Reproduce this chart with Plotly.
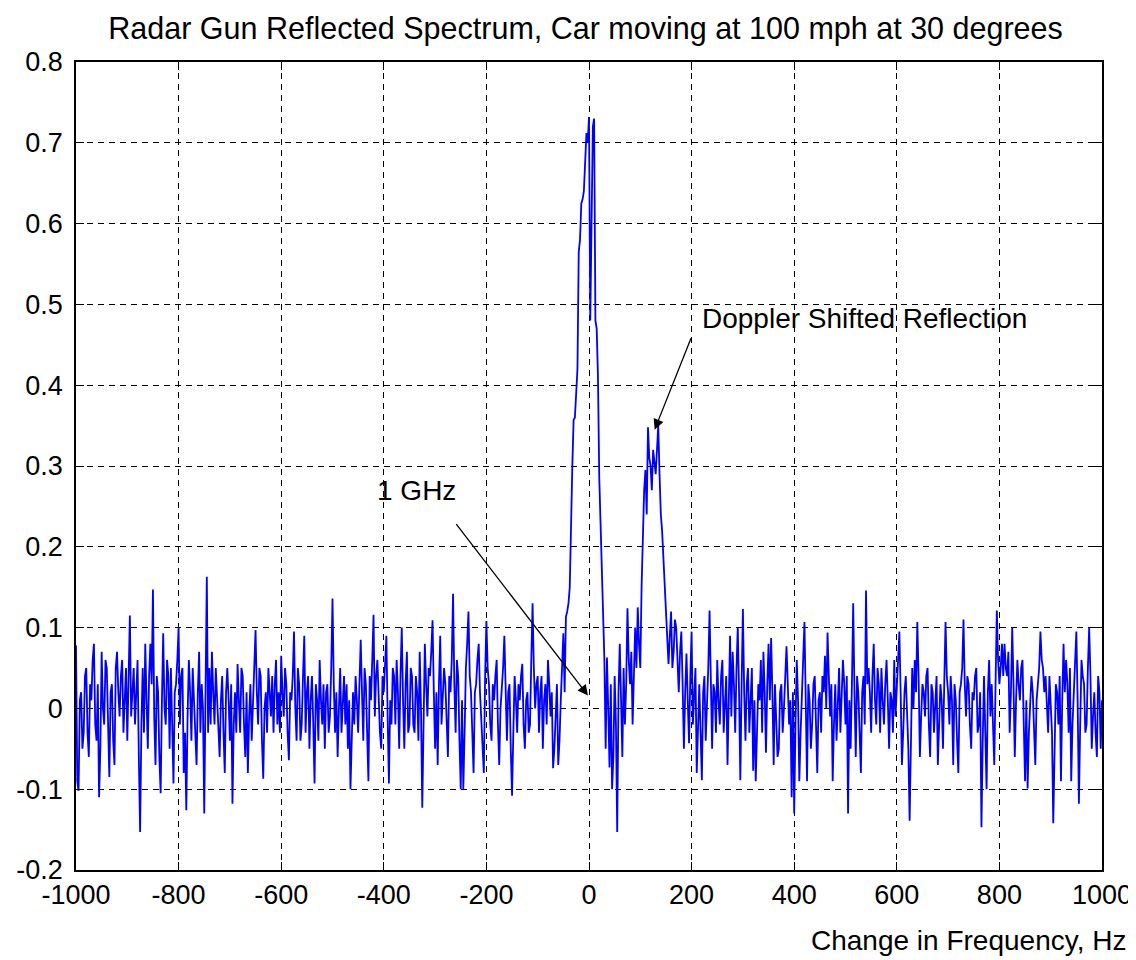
import plotly.graph_objects as go

# Frequency offsets (Hz): samples every 2.5 Hz from -1000 to 1000
freq_start = -1000
freq_step = 2.5

# Spectrum amplitude at -1000, -995, ... (100 Hz per row)
amp_m1000 = [0.078, -0.102, 0.02, -0.03, 0.05, -0.06, 0.01, 0.08, -0.04, -0.11,
             0.07, -0.02, 0.05, -0.085, 0.03, -0.07, 0.07, -0.01, 0.06, 0.02]
amp_m900 = [-0.04, 0.115, 0.03, -0.02, 0.06, -0.153, 0.05, 0.08, -0.05, 0.08,
            0.147, -0.07, 0.02, -0.105, 0.093, -0.02, 0.04, 0.05, -0.093, 0.03]
amp_m800 = [0.1, 0.04, -0.08, -0.126, 0.06, -0.04, 0.01, -0.07, 0.07, 0.03,
            -0.13, 0.163, 0.05, 0.07, -0.02, 0.01, -0.06, 0.04, -0.08, 0.05]
amp_m700 = [-0.04, -0.118, 0.02, 0.055, -0.03, 0.04, -0.06, -0.08, 0.03, 0.01,
            0.097, -0.02, 0.04, -0.087, 0.02, 0.05, -0.01, -0.03, 0.06, 0.02]
amp_m600 = [0.065, -0.01, 0.03, -0.064, 0.01, 0.095, -0.04, 0.03, -0.02, 0.09,
            0.02, -0.05, 0.04, -0.093, 0.01, 0.06, -0.02, -0.05, 0.03, -0.01]
amp_m500 = [0.136, -0.03, -0.06, 0.05, 0.01, -0.02, -0.05, -0.1, 0.02, 0.04,
            -0.03, 0.085, -0.04, 0.03, -0.09, 0.01, 0.116, 0.04, 0.0, -0.05]
amp_m400 = [0.02, 0.09, -0.093, -0.02, 0.04, 0.06, -0.05, 0.1, -0.05, 0.07,
            -0.02, 0.04, -0.03, 0.02, 0.07, -0.123, 0.08, -0.01, 0.04, 0.109]
amp_m300 = [-0.05, -0.07, 0.09, 0.01, 0.03, -0.06, 0.02, 0.142, -0.03, 0.04,
            -0.1, -0.1, 0.05, 0.12, 0.02, -0.08, 0.03, 0.08, -0.01, -0.08]
amp_m200 = [0.108, 0.03, -0.04, 0.01, 0.06, -0.07, 0.02, 0.09, -0.04, 0.03,
            -0.108, 0.04, -0.03, 0.01, 0.055, -0.05, 0.02, -0.02, 0.13, 0.0]
amp_m100 = [0.04, 0.02, -0.05, 0.03, 0.06, -0.01, -0.074, 0.0, -0.07, 0.01,
            0.093, 0.113, 0.13, 0.24, 0.357, 0.39, 0.565, 0.625, 0.64, 0.712]
amp_p000 = [0.732, 0.6, 0.73, 0.47, 0.286, 0.185, 0.06, 0.063, -0.073, -0.1,
            0.04, -0.153, 0.08, -0.06, -0.02, 0.124, 0.03, -0.02, 0.1, 0.125]
amp_p100 = [0.05, 0.22, 0.295, 0.348, 0.30, 0.32, 0.29, 0.35, 0.24, 0.19,
            0.125, 0.055, 0.12, 0.07, 0.1, 0.02, 0.095, -0.05, 0.068, -0.043]
amp_p200 = [0.095, 0.02, -0.08, 0.03, -0.089, 0.04, 0.0, 0.121, -0.05, 0.02,
            0.06, -0.02, 0.06, 0.01, -0.07, 0.09, 0.07, -0.03, 0.1, -0.089]
amp_p300 = [0.123, -0.04, 0.05, 0.02, -0.077, -0.09, 0.03, 0.06, 0.07, -0.055,
            0.08, 0.087, -0.07, -0.02, -0.05, 0.03, 0.0, 0.077, -0.02, -0.11]
amp_p400 = [-0.13, 0.06, -0.09, 0.02, 0.107, -0.09, 0.01, -0.02, 0.04, -0.08,
            0.02, 0.04, 0.065, 0.094, -0.01, -0.09, 0.03, 0.01, -0.03, 0.06]
amp_p500 = [-0.02, -0.13, -0.05, 0.13, -0.06, 0.02, -0.08, 0.04, 0.146, 0.05,
            -0.03, 0.08, -0.02, 0.03, 0.05, -0.02, 0.06, -0.05, 0.01, 0.06]
amp_p600 = [0.02, 0.095, -0.07, 0.02, -0.01, -0.139, 0.05, 0.06, 0.107, -0.06,
            0.03, -0.01, 0.05, -0.06, 0.02, 0.0, -0.07, 0.03, -0.05, 0.107]
amp_p700 = [0.02, 0.04, -0.07, 0.01, -0.08, 0.03, 0.11, -0.01, 0.03, -0.05,
            0.01, 0.05, -0.02, -0.147, 0.04, -0.1, 0.06, 0.03, -0.07, 0.121]
amp_p800 = [0.03, 0.08, 0.08, 0.04, -0.03, 0.1, -0.06, 0.06, 0.01, 0.06,
            -0.09, -0.099, 0.0, 0.02, -0.07, 0.03, 0.095, 0.05, 0.04, -0.03]
amp_p900 = [0.01, -0.142, 0.03, -0.02, -0.09, 0.08, 0.06, -0.03, -0.09, 0.02,
            0.095, -0.118, 0.06, 0.03, -0.02, 0.1, -0.05, 0.02, -0.06, 0.02]
amp_end = [0.01]

# Amplitude at the in-between samples -997.5, -992.5, ... (100 Hz per row)
mid_m1000 = [-0.09, 0.01, -0.05, 0.04, -0.03, 0.03, 0.06, -0.02, 0.03, -0.05,
             0.0, 0.06, -0.04, 0.02, -0.04, 0.05, 0.02, 0.04, -0.03, 0.05]
mid_m900 = [0.03, -0.01, 0.05, 0.03, -0.06, -0.02, -0.03, 0.01, 0.04, 0.03,
            -0.01, 0.04, -0.06, 0.01, 0.0, 0.06, -0.05, -0.02, 0.02, 0.06]
mid_m800 = [-0.02, 0.05, -0.03, -0.01, 0.02, 0.05, -0.04, 0.02, -0.03, 0.0,
            0.02, -0.03, -0.02, 0.02, 0.05, -0.04, 0.01, -0.03, 0.02, 0.01]
mid_m700 = [0.03, -0.02, -0.03, 0.01, 0.05, -0.02, 0.02, -0.01, -0.04, 0.05,
            0.02, 0.05, -0.04, 0.0, -0.03, 0.02, 0.04, 0.03, -0.02, -0.03]
mid_m600 = [0.02, 0.05, -0.03, 0.02, 0.04, 0.0, 0.05, -0.04, 0.04, -0.03,
            0.04, 0.01, -0.02, 0.03, -0.04, 0.01, 0.03, 0.02, -0.03, 0.05]
mid_m500 = [0.03, 0.02, 0.0, -0.03, 0.04, 0.03, 0.01, -0.03, -0.02, 0.01,
            0.03, 0.02, 0.05, -0.03, 0.04, 0.06, -0.01, 0.06, -0.03, 0.04]
mid_m400 = [0.05, -0.01, 0.01, 0.05, -0.02, 0.02, 0.04, 0.01, 0.03, -0.03,
            0.05, -0.02, 0.04, -0.04, 0.0, -0.02, 0.03, 0.05, 0.07, 0.02]
mid_m300 = [0.02, 0.03, -0.02, 0.05, -0.03, 0.04, 0.06, 0.03, 0.06, -0.04,
            0.01, -0.03, 0.08, 0.04, -0.03, 0.02, 0.06, 0.02, -0.05, 0.04]
mid_m200 = [0.05, -0.02, 0.03, 0.04, -0.02, 0.0, 0.05, 0.01, 0.02, -0.05,
            -0.03, 0.01, 0.03, 0.04, -0.02, 0.01, -0.03, 0.06, 0.05, 0.03]
mid_m100 = [-0.03, 0.04, 0.01, -0.02, 0.03, 0.02, -0.05, 0.03, -0.04, 0.06,
            0.02, 0.12, 0.15, 0.30, 0.36, 0.42, 0.58, 0.63, 0.67, 0.70]
mid_p000 = [0.48, 0.72, 0.48, 0.41, 0.23, 0.1, -0.05, 0.0, 0.03, -0.06,
            -0.02, 0.02, 0.01, 0.05, 0.03, 0.06, 0.07, 0.04, 0.05, 0.08]
mid_p100 = [0.15, 0.27, 0.24, 0.31, 0.27, 0.3, 0.32, 0.29, 0.22, 0.16,
            0.1, 0.09, 0.05, 0.11, 0.06, 0.07, 0.03, 0.02, 0.01, 0.04]
mid_p200 = [-0.02, 0.05, -0.01, -0.03, 0.02, -0.04, 0.05, 0.02, 0.03, -0.03,
            0.01, 0.04, -0.03, 0.04, 0.02, -0.01, 0.03, 0.05, 0.02, 0.03]
mid_p300 = [0.02, 0.03, -0.03, 0.05, 0.01, -0.02, 0.01, -0.03, 0.02, 0.03,
            0.01, 0.02, 0.03, -0.06, 0.02, -0.03, 0.05, 0.03, 0.01, 0.02]
mid_p400 = [-0.02, 0.01, -0.03, 0.05, 0.01, 0.03, -0.05, 0.03, -0.02, 0.01,
            -0.03, 0.02, 0.0, 0.04, 0.03, -0.02, -0.04, 0.05, 0.02, 0.03]
mid_p500 = [0.04, 0.01, 0.03, 0.02, 0.04, -0.03, 0.02, -0.02, 0.03, 0.02,
            0.04, 0.01, 0.05, -0.03, 0.01, 0.03, 0.01, 0.02, -0.03, -0.01]
mid_p600 = [0.05, 0.02, -0.03, 0.04, -0.05, -0.02, 0.0, 0.02, 0.04, -0.01,
            0.02, 0.04, -0.02, 0.03, -0.03, 0.04, -0.01, 0.01, 0.03, 0.04]
mid_p700 = [-0.02, 0.01, 0.03, -0.04, 0.02, 0.05, 0.03, 0.04, -0.02, 0.02,
            0.04, -0.03, 0.02, -0.04, -0.03, 0.02, -0.01, -0.02, 0.03, 0.06]
mid_p800 = [0.05, 0.04, 0.05, 0.07, 0.02, 0.03, 0.01, 0.03, 0.05, -0.02,
            0.01, -0.03, 0.04, -0.02, 0.01, 0.05, 0.06, 0.02, 0.01, 0.04]
mid_p900 = [-0.03, -0.04, 0.02, 0.04, 0.01, 0.02, 0.03, 0.05, -0.02, 0.06,
            0.01, -0.02, 0.04, -0.03, 0.05, 0.04, -0.01, -0.03, 0.04, -0.05]

amp_main = (amp_m1000 + amp_m900 + amp_m800 + amp_m700 + amp_m600 + amp_m500
            + amp_m400 + amp_m300 + amp_m200 + amp_m100 + amp_p000 + amp_p100
            + amp_p200 + amp_p300 + amp_p400 + amp_p500 + amp_p600 + amp_p700
            + amp_p800 + amp_p900)
amp_mid = (mid_m1000 + mid_m900 + mid_m800 + mid_m700 + mid_m600 + mid_m500
           + mid_m400 + mid_m300 + mid_m200 + mid_m100 + mid_p000 + mid_p100
           + mid_p200 + mid_p300 + mid_p400 + mid_p500 + mid_p600 + mid_p700
           + mid_p800 + mid_p900)

amplitude = []
for a, m in zip(amp_main, amp_mid):
    amplitude.append(a)
    amplitude.append(m)
amplitude += amp_end
frequency = [freq_start + freq_step * i for i in range(len(amplitude))]

x_ticks = [-1000, -800, -600, -400, -200, 0, 200, 400, 600, 800, 1000]
x_tick_text = ["-1000", "-800", "-600", "-400", "-200", "0", "200", "400", "600", "800", "1000"]
y_ticks = [-0.2, -0.1, 0, 0.1, 0.2, 0.3, 0.4, 0.5, 0.6, 0.7, 0.8]
y_tick_text = ["-0.2", "-0.1", "0", "0.1", "0.2", "0.3", "0.4", "0.5", "0.6", "0.7", "0.8"]

title_text = "Radar Gun Reflected Spectrum, Car moving at 100 mph at 30 degrees"
x_title = "Change in Frequency, Hz"
doppler_label = "Doppler Shifted Reflection"
carrier_label = "1 GHz"

FONT = "Liberation Sans, Arial, sans-serif"

fig = go.Figure()
fig.add_trace(go.Scatter(x=frequency, y=amplitude, mode="lines",
                         line=dict(color="#0000ff", width=1.8), showlegend=False))

axis_common = dict(showline=True, linecolor="black", linewidth=1.5, mirror="ticks",
                   ticks="inside", ticklen=8, tickcolor="black", tickwidth=1.2,
                   showgrid=True, gridcolor="black", gridwidth=1.2, griddash="6px,5px",
                   zeroline=False, automargin=False,
                   tickfont=dict(family=FONT, size=27, color="black"))

fig.update_xaxes(range=[-1000, 1000], tickvals=x_ticks, ticktext=x_tick_text,
                 ticklabelstandoff=0, **axis_common)
fig.update_yaxes(range=[-0.2, 0.8], tickvals=y_ticks, ticktext=y_tick_text,
                 ticklabelstandoff=6, **axis_common)

# Arrows and labels
fig.add_annotation(x=128, y=0.345, ax=200, ay=0.46, axref="x", ayref="y",
                   xref="x", yref="y", text="", showarrow=True, arrowhead=2,
                   arrowsize=1.6, arrowwidth=1.3, arrowcolor="black")
fig.add_annotation(x=216, y=0.483, xref="x", yref="y", text=doppler_label,
                   showarrow=False, xanchor="left", yanchor="middle",
                   font=dict(family=FONT, size=28, color="black"))
fig.add_annotation(x=-2, y=0.016, ax=-261, ay=0.23, axref="x", ayref="y",
                   xref="x", yref="y", text="", showarrow=True, arrowhead=2,
                   arrowsize=1.6, arrowwidth=1.3, arrowcolor="black")
fig.add_annotation(x=-417, y=0.27, xref="x", yref="y", text=carrier_label,
                   showarrow=False, xanchor="left", yanchor="middle",
                   font=dict(family=FONT, size=28, color="black"))

# Axis title at lower right
fig.add_annotation(x=1, y=0, xref="paper", yref="paper", text=x_title,
                   showarrow=False, xanchor="right", yanchor="middle",
                   xshift=26, yshift=-70,
                   font=dict(family=FONT, size=28, color="black"))

# The page adds an 8 px body margin, so the figure is 16 px smaller and
# the left/top margins are 8 px smaller to land where the reference draws.
fig.update_layout(
    width=1128, height=952,
    margin=dict(l=68, r=34, t=54, b=90),
    paper_bgcolor="white", plot_bgcolor="white",
    title=dict(text=title_text, x=0.512, xanchor="center", y=0.979, yanchor="middle",
               font=dict(family=FONT, size=30.5, color="black")),
)

fig.write_html("out.html")
